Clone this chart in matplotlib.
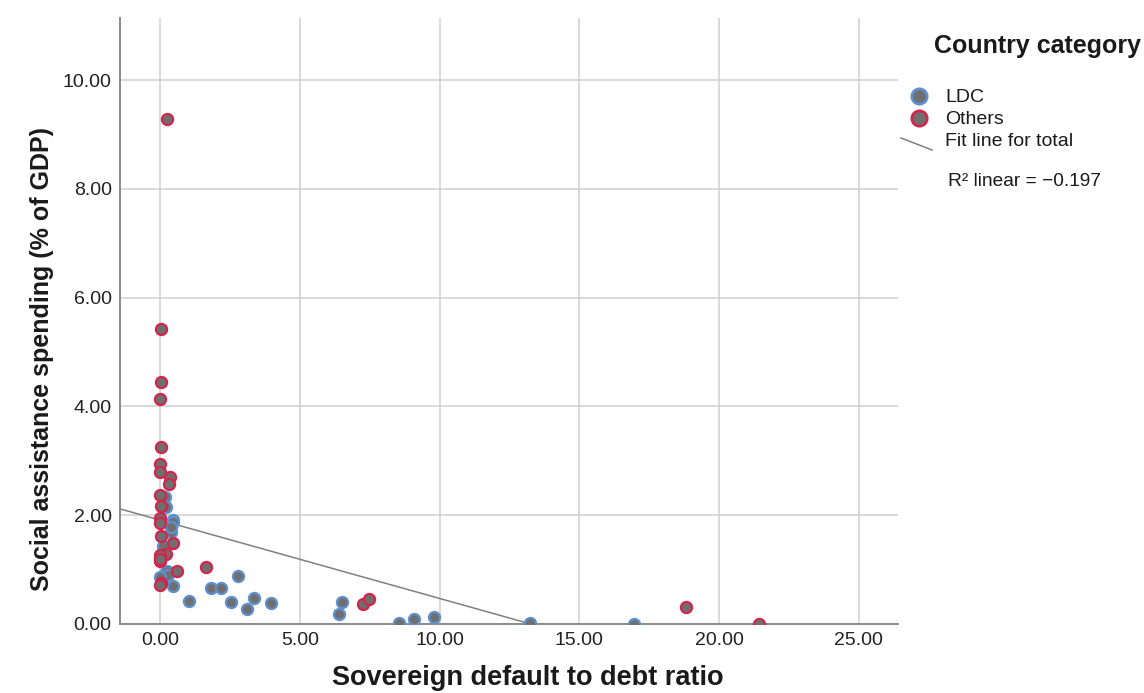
import numpy as np
import matplotlib
matplotlib.use('Agg')
import matplotlib.pyplot as plt
from matplotlib.lines import Line2D

plt.rcParams['font.family'] = ['Liberation Sans', 'DejaVu Sans']

# LDC countries (blue outline)
ldc_x = [0.18, 0.21, 0.48, 0.45, 0.38, 0.40, 0.18, 0.12, 0.21, 0.24, 0.30, 0.00, 0.48, 1.05,
         1.83, 2.18, 2.80, 2.53, 3.36, 3.10, 3.96, 6.51, 6.39, 8.55, 9.07, 9.82,
         13.24, 16.96]
ldc_y = [2.34, 2.15, 1.91, 1.88, 1.70, 1.78, 1.42, 1.44, 0.96, 0.98, 0.90, 0.86, 0.69, 0.42,
         0.67, 0.67, 0.88, 0.41, 0.47, 0.27, 0.39, 0.40, 0.18, 0.01, 0.09, 0.13,
         0.01, 0.00]

# Others (red outline)
oth_x = [0.24, 0.04, 0.05, 0.00, 0.03, 0.00, 0.00, 0.36, 0.32, 0.00, 0.03, 0.00, 0.00,
         0.03, 0.48, 0.21, 0.00, 0.00, 0.00, 0.62, 0.03, 0.00, 1.63, 7.26, 7.49,
         18.81, 21.44]
oth_y = [9.28, 5.42, 4.44, 4.13, 3.26, 2.95, 2.79, 2.70, 2.57, 2.37, 2.16, 1.94, 1.86,
         1.61, 1.49, 1.29, 1.26, 1.15, 1.20, 0.98, 0.76, 0.71, 1.04, 0.36, 0.46,
         0.32, 0.00]

# fit line for total (as reported on the chart)
fit_intercept = 1.91
fit_slope = -0.144
r2_text = 'R\u00b2 linear = \u22120.197'

x_ticks = [0, 5, 10, 15, 20, 25]
y_ticks = [0, 2, 4, 6, 8, 10]

face = '#6f6f6f'
blue = '#5f8fcf'
red = '#d3244c'
grid_c = '#cfcfcf'
txt_c = '#1a1a1a'

fig = plt.figure(figsize=(11.44, 6.93), dpi=100)
ax = fig.add_axes([120 / 1144, 69 / 693, 778 / 1144, 606 / 693])

xmin, xmax = -1.43, 26.4
ymin, ymax = 0, 11.14

ax.scatter(ldc_x, ldc_y, s=64, c=face, edgecolors=blue, linewidths=1.6, zorder=3)
ax.scatter(oth_x, oth_y, s=64, c=face, edgecolors=red, linewidths=1.6, zorder=4)

x_end = -fit_intercept / fit_slope
fx = np.array([xmin, x_end])
ax.plot(fx, fit_intercept + fit_slope * fx, color='#808080', lw=1.1, zorder=2)

ax.set_xlim(xmin, xmax)
ax.set_ylim(ymin, ymax)
ax.set_xticks(x_ticks)
ax.set_yticks(y_ticks)
ax.set_xticklabels([f'{v:.2f}' for v in x_ticks], fontsize=14, color='#222222')
ax.set_yticklabels([f'{v:.2f}' for v in y_ticks], fontsize=14, color='#222222')
ax.tick_params(length=0, pad=6)
ax.grid(True, color=grid_c, lw=1.1)
ax.set_axisbelow(True)
for s in ['top', 'right']:
    ax.spines[s].set_visible(False)
for s in ['left', 'bottom']:
    ax.spines[s].set_color('#8a8a8a')
    ax.spines[s].set_linewidth(1.4)

ax.set_xlabel('Sovereign default to debt ratio', fontsize=19.5, fontweight='bold', color=txt_c, va='center')
ax.set_ylabel('Social assistance spending (% of GDP)', fontsize=18, fontweight='bold', color=txt_c, va='center')
ax.xaxis.set_label_coords((528 - 120) / 778, (624 - 678) / 606)
ax.yaxis.set_label_coords((42 - 120) / 778, (624 - 359) / 606)

# legend drawn by hand at the right
def fx_(px):
    return px / 1144
def fy_(py):
    return 1 - py / 693

fig.text(fx_(934), fy_(53), 'Country category', fontsize=18, fontweight='bold', color=txt_c, va='baseline')
fig.add_artist(Line2D([fx_(919)], [fy_(96)], marker='o', ms=11, mfc=face, mec=blue, mew=2))
fig.add_artist(Line2D([fx_(919)], [fy_(118)], marker='o', ms=11, mfc=face, mec=red, mew=2))
fig.text(fx_(945), fy_(97), 'LDC', fontsize=14, va='center', color=txt_c)
fig.text(fx_(945), fy_(119), 'Others', fontsize=14, va='center', color=txt_c)
fig.add_artist(Line2D([fx_(901), fx_(932)], [fy_(138), fy_(150)], color='#808080', lw=1.1))
fig.text(fx_(945), fy_(142), 'Fit line for total', fontsize=14, va='center', color=txt_c)
fig.text(fx_(948), fy_(181), r2_text, fontsize=13.8, va='center', color=txt_c)

fig.savefig('out.png', dpi=100)
